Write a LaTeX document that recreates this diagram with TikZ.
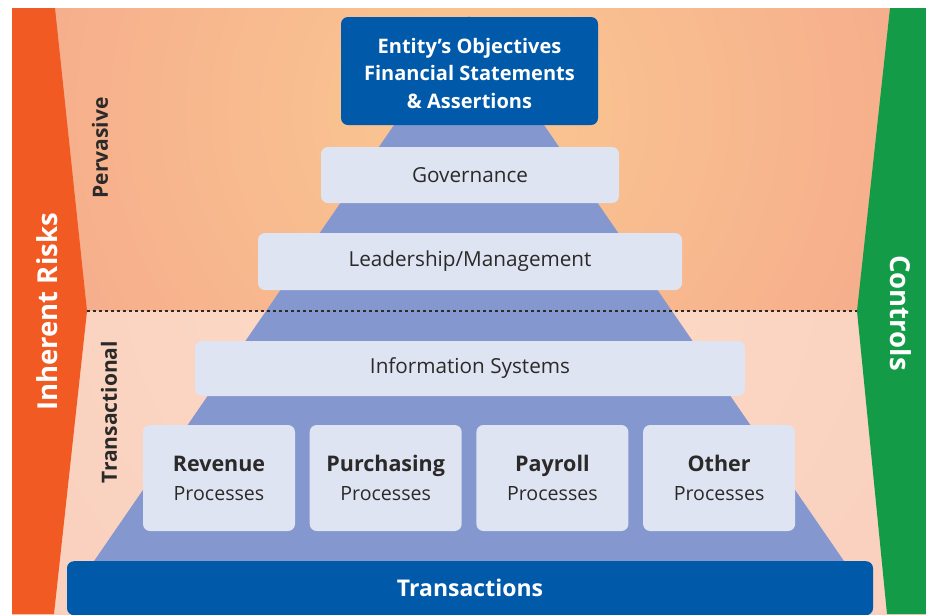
\documentclass[tikz,border=0pt]{standalone}
\usepackage{fontspec}
\setmainfont{Open Sans}
\usetikzlibrary{positioning}
\definecolor{riskorange}{HTML}{F15A22}
\definecolor{ctrlgreen}{HTML}{149B48}
\definecolor{deepblue}{HTML}{0059A9}
\definecolor{pyrblue}{HTML}{8497CE}
\definecolor{layergrey}{HTML}{DFE4F3}
\definecolor{textgrey}{HTML}{2B2A29}
\definecolor{peachlight}{HTML}{FAC892}
\definecolor{salmon}{HTML}{F5A68A}
\definecolor{blushlight}{HTML}{FCDCC8}
\definecolor{blush}{HTML}{F9CCBB}

\begin{document}
\begin{tikzpicture}[x=1pt, y=-1pt, node distance=166.7pt, on grid,
    layer/.style={rectangle, rounded corners=7pt, fill=layergrey, text=textgrey, font=\fontsize{20.7}{25}\selectfont},
    bluebar/.style={rectangle, rounded corners=7pt, fill=deepblue, text=white, align=center, font=\bfseries\fontsize{20}{27.5}\selectfont},
    process/.style={layer, minimum width=152pt, minimum height=106pt, align=center, font=\fontsize{19.6}{29}\selectfont},
    sidelabel/.style={text=white, font=\bfseries\fontsize{27.5}{32}\selectfont},
    tierlabel/.style={rotate=90, text=textgrey, font=\bfseries\fontsize{21}{25}\selectfont}]
    \useasboundingbox (0,0) rectangle (926,614);

    \begin{scope}
        \clip (12,8) rectangle (926,311);
        \shade[inner color=peachlight, outer color=salmon] (470,110) circle [radius=570];
    \end{scope}
    \begin{scope}
        \clip (12,311) rectangle (926,614);
        \shade[inner color=blushlight, outer color=blush] (470,250) circle [radius=700];
    \end{scope}

    \fill[pyrblue] (469,16) -- (857,580) -- (81,580) -- cycle;

    \fill[riskorange] (12,8) -- (55,8) -- (87,311) coordinate (riskTip) -- (54,614) -- (12,614) -- cycle;
    \fill[ctrlgreen] (890,8) -- (926,8) -- (926,614) -- (887,614) -- (857,311) coordinate (ctrlTip) -- cycle;
    \draw[dash pattern=on 3pt off 3pt, line width=1.2pt, textgrey] (riskTip) -- (ctrlTip);

    \node[bluebar, minimum width=257pt, minimum height=108pt] (objectives) at (469.5,71)
        {\rule{0pt}{20pt}Entity’s Objectives\\Financial Statements\\\& Assertions};
    \node[layer, minimum width=298pt, minimum height=56pt] (governance) at (470,175) {Governance};
    \node[layer, minimum width=424pt, minimum height=57pt] (leadership) at (470,261.5) {Leadership/Management};
    \node[layer, minimum width=550pt, minimum height=55pt] (infosys) at (470,368.5) {Information Systems};

    \node[process]  (revenue)    at (219,478)         {\fontsize{21.5}{29}\selectfont\bfseries Revenue\\Processes};
    \node[process]  (purchasing) [right= of revenue]    {\fontsize{21.5}{29}\selectfont\bfseries Purchasing\\Processes};
    \node[process]  (payroll)    [right= of purchasing] {\fontsize{21.5}{29}\selectfont\bfseries Payroll\\Processes};
    \node[process]  (other)      [right= of payroll]    {\fontsize{21.5}{29}\selectfont\bfseries Other\\Processes};

    \node[bluebar, minimum width=806pt, minimum height=54pt, anchor=north,
          font=\bfseries\fontsize{23}{27}\selectfont] (transactions) at (470,561) {Transactions};

    \node[sidelabel, rotate=90]  (inherent) at (47,312)  {Inherent Risks};
    \node[sidelabel, rotate=-90] (controls) at (901,313) {Controls};
    \node[tierlabel] (pervasive)     at (100,148) {Pervasive};
    \node[tierlabel] (transactional) at (109,412) {Transactional};
\end{tikzpicture}
\end{document}
